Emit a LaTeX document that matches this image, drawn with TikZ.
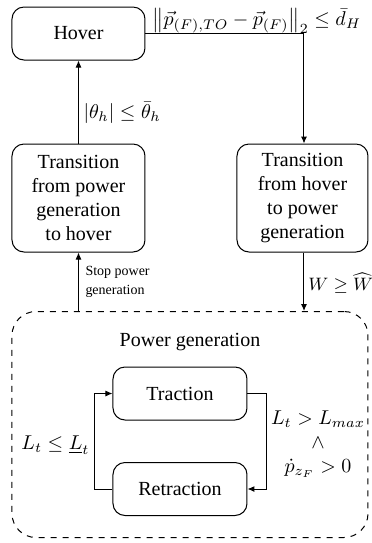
\documentclass[tikz,border=0pt]{standalone}
\usepackage{amsmath}
\usepackage{fontspec}
\setmainfont{Liberation Serif}
\usetikzlibrary{arrows.meta}
\begin{document}
\begin{tikzpicture}[x=0.5pt,y=-0.5pt,
  state/.style={draw, rounded corners=6pt, align=center, font=\fontsize{10}{12}\selectfont, inner sep=0pt},
  lbl/.style={font=\fontsize{10}{12}\selectfont, inner sep=0pt},
  small/.style={font=\fontsize{7}{9.5}\selectfont, align=left, inner sep=0pt},
  arr/.style={-{Latex[length=3.5pt,width=3pt]}, line width=0.5pt},
  every node/.style={line width=0.5pt}]
\useasboundingbox (0,0) rectangle (371,543);
% boxes
\node[state, minimum width=66.5pt, minimum height=26.5pt] (hover) at (78.5,33.5) {Hover};
\node[state, minimum width=66.5pt, minimum height=54pt] (tph) at (78.5,198) {Transition\\from power\\generation\\to hover};
\node[state, minimum width=65.5pt, minimum height=54pt] (thp) at (302.5,198) {Transition\\from hover\\to power\\generation};
\node[draw, dashed, rounded corners=12pt, minimum width=178pt, minimum height=113pt, inner sep=0pt, line width=0.5pt] (pg) at (190,424.5) {};
\node[lbl] (pgt) at (190,342) {Power generation};
\node[state, minimum width=67pt, minimum height=26.5pt] (trac) at (180,393.5) {Traction};
\node[state, minimum width=67pt, minimum height=26.5pt] (retr) at (180,489) {Retraction};
% connectors
\coordinate (c1) at (304,33.5);
\draw[arr] (hover.east) -- (c1) -- (thp.north -| c1);
\draw[arr] (tph.north) -- (hover.south);
\draw[arr] (thp.south -| c1) -- (pg.north -| c1);
\draw[arr] (pg.north -| tph.south) -- (tph.south);
\coordinate (r1) at (267,393.5);
\coordinate (l1) at (95,489);
\draw[arr] (trac.east) -- (r1) -- (r1 |- retr.east) -- (retr.east);
\draw[arr] (retr.west) -- (l1) -- (l1 |- trac.west) -- (trac.west);
% labels
\node[lbl, anchor=west] (lb1) at (152,21) {$\bigl\lVert \vec{p}_{(F),TO}-\vec{p}_{(F)}\bigr\rVert_2 \le \bar{d}_H$};
\node[lbl, anchor=west] (lb2) at (83,113) {$|\theta_h| \le \bar{\theta}_h$};
\node[small, anchor=north west] (lb3) at (85,266) {Stop power\\generation};
\node[lbl, anchor=west, font=\fontsize{9.5}{12}\selectfont] (lb4) at (308,283) {$W \ge \widehat{W}$};
\node[lbl, anchor=west] (lb5) at (21,445) {$L_t \le \underline{L}_t$};
\node[lbl, align=center] (lb6) at (318,444) {$L_t > L_{max}$\\$\wedge$\\$\dot{p}_{z_F} > 0$};
\end{tikzpicture}
\end{document}
